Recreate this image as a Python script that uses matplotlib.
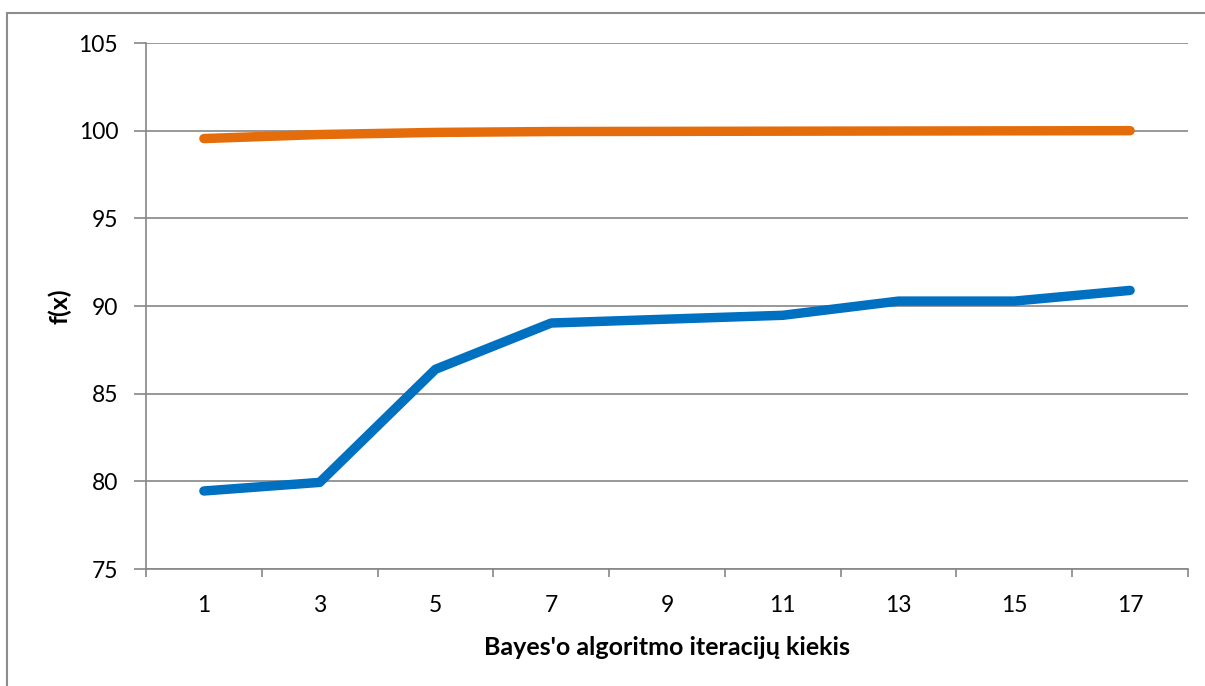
import matplotlib
matplotlib.use("Agg")
import matplotlib.pyplot as plt
import numpy as np
from matplotlib.patches import Rectangle

# iteracijų skaičius ir f(x) reikšmės
iterations = ["1", "3", "5", "7", "9", "11", "13", "15", "17"]
series_blue = [79.45, 79.94, 86.39, 89.03, 89.25, 89.47, 90.28, 90.28, 90.89]
series_orange = [99.55, 99.78, 99.9, 99.95, 99.96, 99.97, 99.98, 99.99, 100.0]

plt.rcParams['font.family'] = ['Lato', 'DejaVu Sans']

W, H = 1205, 686
fig = plt.figure(figsize=(W / 100, H / 100), dpi=100)
fig.patch.set_facecolor("white")

# rėmelis aplink visą diagramą
fig.patches.append(Rectangle((7 / W, -0.05), 1.2, (H - 13) / H + 0.05,
                             transform=fig.transFigure, fill=False,
                             edgecolor="#8c8c8c", linewidth=1.5))

ax = fig.add_axes([146 / W, (H - 569) / H, (1188 - 146) / W, (569 - 43) / H])

x = np.arange(len(iterations))
ax.plot(x, series_blue, color="#0070C0", linewidth=6.8, solid_capstyle="round",
        solid_joinstyle="round", zorder=3)
ax.plot(x, series_orange, color="#E46C0A", linewidth=6.8, solid_capstyle="round",
        solid_joinstyle="round", zorder=3)

ax.set_xlim(-0.5, len(iterations) - 0.5)
ax.set_ylim(75, 105)
ax.set_yticks(np.arange(75, 106, 5))
ax.set_xticks(x)
ax.set_xticklabels(iterations)
ax.set_xticks(np.arange(-0.5, len(iterations)), minor=True)

grid_color = "#868686"
ax.yaxis.grid(True, color=grid_color, linewidth=1.2)
ax.set_axisbelow(True)
for side in ("top", "right"):
    ax.spines[side].set_visible(False)
for side in ("left", "bottom"):
    ax.spines[side].set_color(grid_color)
    ax.spines[side].set_linewidth(1.2)

ax.tick_params(axis="x", which="major", length=0, pad=19, labelsize=16.5)
ax.tick_params(axis="x", which="minor", length=6, color=grid_color, width=1.2)
ax.tick_params(axis="y", length=9, color=grid_color, width=1.2, pad=11,
               labelsize=16.5)

ax.set_xlabel("Bayes'o algoritmo iteracijų kiekis", fontsize=18,
              fontweight="bold", labelpad=14)
ax.set_ylabel("f(x)", fontsize=18, fontweight="bold", labelpad=5)

fig.savefig("out.png", dpi=100)
